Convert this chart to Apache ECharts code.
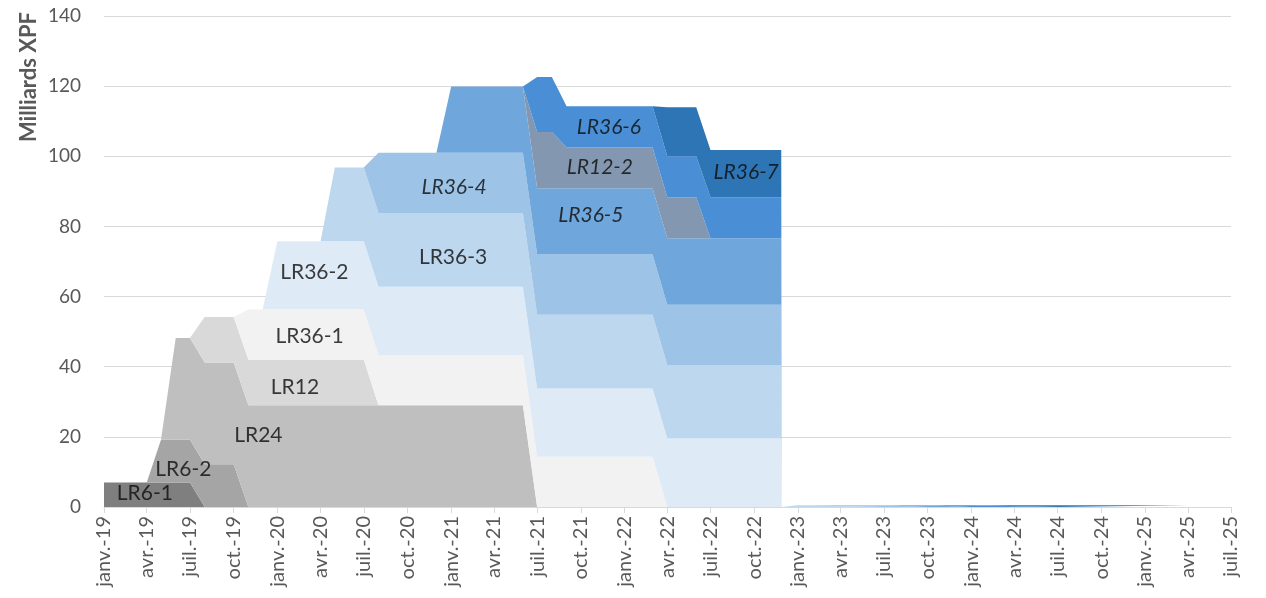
<!DOCTYPE html>
<html>
<head>
<meta charset="utf-8">
<script src="https://cdn.jsdelivr.net/npm/echarts@6/dist/echarts.min.js"></script>
<style>
html,body{margin:0;padding:0;background:#fff;}
#chart{width:1266px;height:598px;}
</style>
</head>
<body>
<div id="chart"></div>
<script>
// ---- DATA ----
// Dates at which the outstanding amounts change (linear in between)
const dates = [
  '2019-01-01','2019-04-01','2019-05-01','2019-06-01','2019-07-01','2019-08-01',
  '2019-10-01','2019-11-01','2019-12-01','2020-01-01','2020-04-01','2020-05-01',
  '2020-07-01','2020-08-01','2020-12-01','2021-01-01','2021-06-01','2021-07-01',
  '2021-08-01','2021-09-01','2022-03-01','2022-04-01','2022-06-01','2022-07-01',
  '2022-11-27','2022-11-28','2023-01-01','2023-07-01','2023-10-01','2024-01-01',
  '2024-07-01','2025-04-01'
];
// Milliards XPF, stacked bottom to top
const seriesNames = ['LR6-1','LR6-2','LR24','LR12','LR36-1','LR36-2','LR36-3','LR36-4','LR36-5','LR12-2','LR36-6','LR36-7'];
const lr6_1  = [7,7,7,7,7,0, 0,0,0,0,0,0, 0,0,0,0,0,0, 0,0,0,0,0,0, 0,0,0,0,0,0, 0,0];
const lr6_2  = [0,0,12.2,12.2,12.2,12.2, 12.2,0,0,0,0,0, 0,0,0,0,0,0, 0,0,0,0,0,0, 0,0,0,0,0,0, 0,0];
const lr24   = [0,0,0,29,29,29, 29,29,29,29,29,29, 29,29,29,29,29,0, 0,0,0,0,0,0, 0,0,0,0,0,0, 0,0];
const lr12   = [0,0,0,0,0,13, 13,13,13,13,13,13, 13,0,0,0,0,0, 0,0,0,0,0,0, 0,0,0,0,0,0, 0,0];
const lr36_1 = [0,0,0,0,0,0, 0,14.3,14.3,14.3,14.3,14.3, 14.3,14.3,14.3,14.3,14.3,14.3, 14.3,14.3,14.3,0,0,0, 0,0,0,0,0,0, 0,0];
const lr36_2 = [0,0,0,0,0,0, 0,0,0,19.5,19.5,19.5, 19.5,19.5,19.5,19.5,19.5,19.5, 19.5,19.5,19.5,19.5,19.5,19.5, 19.5,0,0,0,0,0, 0,0];
const lr36_3 = [0,0,0,0,0,0, 0,0,0,0,0,21, 21,21,21,21,21,21, 21,21,21,21,21,21, 21,0,0.5,0,0,0, 0,0];
const lr36_4 = [0,0,0,0,0,0, 0,0,0,0,0,0, 0,17.2,17.2,17.2,17.2,17.2, 17.2,17.2,17.2,17.2,17.2,17.2, 17.2,0,0,0.5,0,0, 0,0];
const lr36_5 = [0,0,0,0,0,0, 0,0,0,0,0,0, 0,0,0,18.9,18.9,18.9, 18.9,18.9,18.9,18.9,18.9,18.9, 18.9,0,0,0,0.5,0, 0,0];
const lr12_2 = [0,0,0,0,0,0, 0,0,0,0,0,0, 0,0,0,0,0,16, 16,11.7,11.7,11.7,11.7,0, 0,0,0,0,0,0, 0,0];
const lr36_6 = [0,0,0,0,0,0, 0,0,0,0,0,0, 0,0,0,0,0,15.7, 15.7,11.7,11.7,11.7,11.7,11.7, 11.7,0,0,0,0,0.5, 0,0];
const lr36_7 = [0,0,0,0,0,0, 0,0,0,0,0,0, 0,0,0,0,0,0, 0,0,0,14,14,13.5, 13.5,0,0,0,0,0, 0.5,0.5];
const seriesValues = [lr6_1, lr6_2, lr24, lr12, lr36_1, lr36_2, lr36_3, lr36_4, lr36_5, lr12_2, lr36_6, lr36_7];
const italicNames = ['LR36-4','LR36-5','LR12-2','LR36-6','LR36-7'];
// label anchors: [date, value]
const labelNames = ['LR6-1','LR6-2','LR24','LR12','LR36-1','LR36-2','LR36-3','LR36-4','LR36-5','LR12-2','LR36-6','LR36-7'];
const labelDates = ['2019-03-28','2019-06-17','2019-11-22','2020-02-07','2020-03-09','2020-03-19','2021-01-05','2021-01-07','2021-10-22','2021-11-10','2021-11-29','2022-09-14'];
const labelValues = [4.0, 10.8, 20.5, 34.2, 48.8, 67.0, 71.3, 91.2, 83.3, 96.9, 108.4, 95.5];
const monthAbbr = ['janv.','févr.','mars','avr.','mai','juin','juil.','août','sept.','oct.','nov.','déc.'];
const xMin = '2019-01-01', xMax = '2025-07-01';
const yAxisTitle = 'Milliards XPF';

// ---- STYLE ----
const colors = ['#7f7f7f','#a5a5a5','#bfbfbf','#d9d9d9','#f2f2f2','#deebf7','#bdd7ee','#9dc3e6','#6fa6db','#8497b0','#4a8fd5','#2e75b6'];
const FONT = 'Lato';
const DAY = 86400000;

const series = seriesNames.map((name, i) => ({
  name: name,
  type: 'line',
  stack: 'total',
  data: dates.map((d, k) => [d, seriesValues[i][k]]),
  showSymbol: false,
  symbol: 'none',
  lineStyle: { width: 0, opacity: 0 },
  areaStyle: { color: colors[i], opacity: 1 },
  itemStyle: { color: colors[i] },
  emphasis: { disabled: true },
  silent: true,
  z: 2
}));

series.push({
  name: 'labels',
  type: 'scatter',
  symbolSize: 0,
  silent: true,
  z: 5,
  data: labelNames.map((n, i) => ({
    name: n,
    value: [labelDates[i], labelValues[i]],
    label: {
      show: true,
      position: 'inside',
      formatter: n,
      color: '#0d0d0d',
      fontSize: 21,
      fontFamily: FONT,
      fontStyle: italicNames.includes(n) ? 'italic' : 'normal'
    }
  }))
});

const chart = echarts.init(document.getElementById('chart'), null, { renderer: 'canvas' });
chart.setOption({
  animation: false,
  backgroundColor: '#ffffff',
  grid: { left: 104, right: 35, top: 16, bottom: 91, containLabel: false },
  xAxis: {
    type: 'time',
    min: xMin, max: xMax,
    minInterval: 89 * DAY, maxInterval: 93 * DAY,
    axisLine: { show: true, lineStyle: { color: '#d9d9d9', width: 1 } },
    axisTick: { show: true, length: 6, lineStyle: { color: '#d9d9d9' } },
    splitLine: { show: false },
    axisLabel: {
      rotate: 90, margin: 9, hideOverlap: false,
      showMinLabel: true, showMaxLabel: true,
      color: '#595959', fontSize: 20, fontFamily: FONT,
      formatter: v => {
        const d = new Date(v);
        return monthAbbr[d.getMonth()] + '-' + String(d.getFullYear()).slice(2);
      }
    }
  },
  yAxis: {
    type: 'value',
    min: 0, max: 140, interval: 20,
    axisLine: { show: false },
    axisTick: { show: false },
    splitLine: { show: true, lineStyle: { color: '#d9d9d9', width: 1 } },
    axisLabel: { color: '#595959', fontSize: 19, fontFamily: FONT, margin: 23 }
  },
  graphic: [{
    type: 'text',
    x: 29, y: 77,
    rotation: Math.PI/2,
    style: { text: yAxisTitle, fill: '#595959', font: 'bold 22px ' + FONT, align: 'center', verticalAlign: 'middle' }
  }],
  series: series
});
</script>
</body>
</html>
